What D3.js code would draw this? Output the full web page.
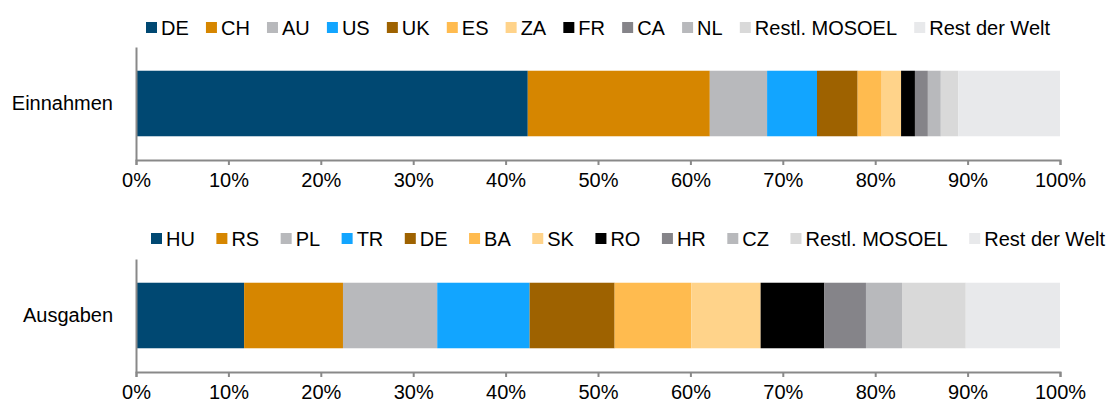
<!DOCTYPE html>
<html>
<head>
<meta charset="utf-8">
<script src="https://cdn.jsdelivr.net/npm/d3@7"></script>
<style>
  body { margin: 0; background: #fff; }
  svg { font-family: "Liberation Sans", Arial, sans-serif; }
</style>
</head>
<body>
<div id="vis"></div>
<script>
// data (shares in %)
const INCOME_KEYS = ["DE", "CH", "AU", "US", "UK", "ES", "ZA", "FR", "CA", "NL", "Restl. MOSOEL", "Rest der Welt"];
const INCOME_VALUES = [42.4, 19.7, 6.2, 5.4, 4.4, 2.6, 2.1, 1.5, 1.4, 1.4, 1.9, 11.0];

const SPEND_KEYS = ["HU", "RS", "PL", "TR", "DE", "BA", "SK", "RO", "HR", "CZ", "Restl. MOSOEL", "Rest der Welt"];
const SPEND_VALUES = [11.7, 10.7, 10.2, 10.0, 9.2, 8.3, 7.5, 6.9, 4.5, 3.9, 6.9, 10.2];

const TICKS = [0, 10, 20, 30, 40, 50, 60, 70, 80, 90, 100];

// colours by position in the stack
const COLORS = ["#004872", "#D68600", "#B8B9BC", "#12A5FF", "#9E6200", "#FFBB4F",
                "#FFD38A", "#000000", "#858489", "#B8B9BC", "#D9D9D9", "#E8E9EB"];

const FRAME_WIDTH = 1113;
const FRAME_HEIGHT = 408;
const X_LEFT = 136;
const X_RIGHT = 1060;

const FRAME = d3.select("#vis")
  .append("svg")
    .attr("width", FRAME_WIDTH)
    .attr("height", FRAME_HEIGHT);

const X_SCALE = d3.scaleLinear()
  .domain([0, 100])
  .range([X_LEFT, X_RIGHT]);

function build_panel(label, keys, values, top, axisY, legendY, legendEnd) {
  const row = {};
  keys.forEach((k, i) => { row[k] = values[i]; });
  const series = d3.stack().keys(keys)([row]);

  const Y_SCALE = d3.scaleBand()
    .domain([label])
    .range([top, axisY])
    .paddingInner(0.42)
    .paddingOuter(0.21);

  // bars
  FRAME.append("g")
    .selectAll("rect")
    .data(series)
    .enter()
    .append("rect")
      .attr("x", (d) => X_SCALE(d[0][0]))
      .attr("y", Y_SCALE(label))
      .attr("width", (d) => X_SCALE(d[0][1]) - X_SCALE(d[0][0]))
      .attr("height", Y_SCALE.bandwidth())
      .attr("fill", (d, i) => COLORS[i]);

  // x axis
  const xAxis = FRAME.append("g")
    .attr("transform", "translate(0," + axisY + ")")
    .call(d3.axisBottom(X_SCALE).tickValues(TICKS).tickSize(5).tickSizeOuter(5)
      .tickFormat((d) => d + "%"));
  xAxis.select(".domain").attr("stroke", "#898989").attr("stroke-width", 2);
  xAxis.selectAll(".tick line").attr("stroke", "#898989").attr("stroke-width", 2);
  xAxis.selectAll(".tick text")
    .attr("font-size", "20px")
    .attr("font-family", "Liberation Sans, Arial, sans-serif")
    .attr("fill", "#000")
    .attr("y", 13);

  // y axis
  const yAxis = FRAME.append("g")
    .attr("transform", "translate(" + X_LEFT + ",0)")
    .call(d3.axisLeft(Y_SCALE).tickSize(0).tickSizeOuter(0).tickPadding(23));
  yAxis.select(".domain").attr("stroke", "#898989").attr("stroke-width", 2);
  yAxis.selectAll(".tick text")
    .attr("font-size", "20px")
    .attr("font-family", "Liberation Sans, Arial, sans-serif")
    .attr("fill", "#000");

  // legend, spread between first square and legendEnd
  const legend = FRAME.append("g");
  const items = legend.selectAll("g")
    .data(keys)
    .enter()
    .append("g");
  items.append("rect")
    .attr("width", 11)
    .attr("height", 11)
    .attr("y", legendY - 6)
    .attr("fill", (d, i) => COLORS[i]);
  items.append("text")
    .attr("x", 15)
    .attr("y", legendY + 7)
    .attr("font-size", "20px")
    .attr("fill", "#000")
    .text((d) => d);

  const widths = [];
  items.each(function () { widths.push(15 + d3.select(this).select("text").node().getComputedTextLength()); });
  const start = legendEnd[0];
  const gap = (legendEnd[1] - start - d3.sum(widths)) / (keys.length - 1);
  let pos = start;
  items.attr("transform", (d, i) => {
    const t = "translate(" + pos + ",0)";
    pos += widths[i] + gap;
    return t;
  });
}

build_panel("Einnahmen", INCOME_KEYS, INCOME_VALUES, 47, 160, 28, [146, 1050]);
build_panel("Ausgaben", SPEND_KEYS, SPEND_VALUES, 259, 372, 239, [151, 1105]);
</script>
</body>
</html>
